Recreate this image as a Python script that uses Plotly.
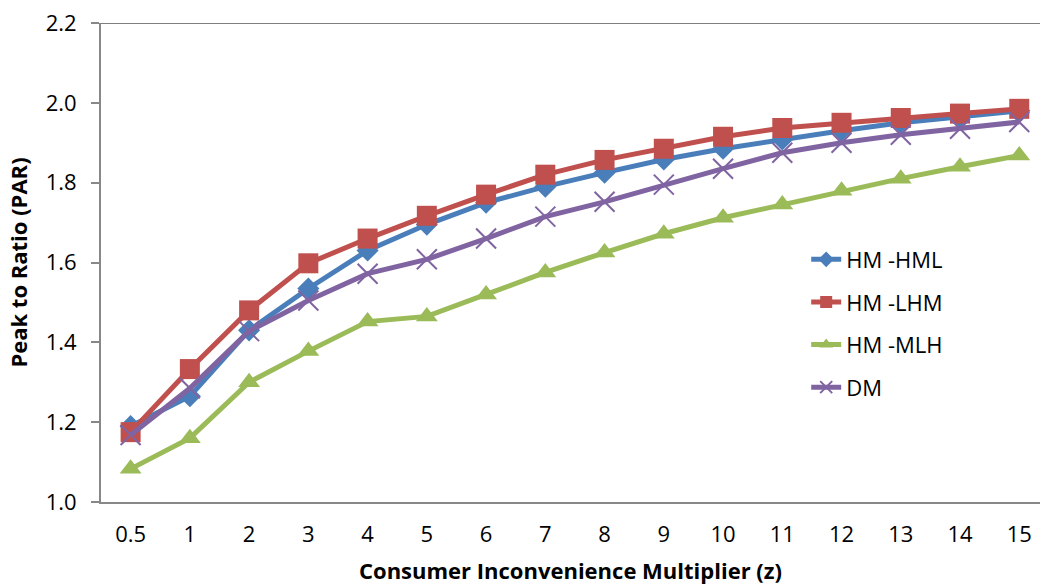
import plotly.graph_objects as go

# Consumer inconvenience multiplier categories
z_labels = ["0.5", "1", "2", "3", "4", "5", "6", "7", "8", "9", "10", "11", "12", "13", "14", "15"]

# Peak-to-average ratio for each scheme
hm_hml = [1.19, 1.265, 1.43, 1.535, 1.63, 1.695, 1.75, 1.79, 1.825, 1.858, 1.885, 1.908, 1.93, 1.95, 1.965, 1.98]
hm_lhm = [1.175, 1.333, 1.48, 1.598, 1.66, 1.717, 1.77, 1.82, 1.857, 1.885, 1.915, 1.937, 1.95, 1.962, 1.973, 1.985]
hm_mlh = [1.083, 1.16, 1.3, 1.378, 1.452, 1.465, 1.52, 1.575, 1.625, 1.672, 1.712, 1.745, 1.78, 1.81, 1.84, 1.868]
dm = [1.168, 1.285, 1.428, 1.505, 1.572, 1.608, 1.66, 1.715, 1.752, 1.795, 1.835, 1.875, 1.9, 1.92, 1.935, 1.952]

xpos = list(range(len(z_labels)))
FONT = "Open Sans"
FS = 22

series = [
    ("HM -HML", hm_hml, "#4A7EBB", dict(symbol="diamond", size=17)),
    ("HM -LHM", hm_lhm, "#C0504D", dict(symbol="square", size=20)),
    ("HM -MLH", hm_mlh, "#9BBB59", dict(symbol="triangle-up", size=19)),
    ("DM", dm, "#8064A2", dict(symbol="x-thin", size=20)),
]

fig = go.Figure()
for name, vals, color, mk in series:
    marker = dict(color=color, **mk)
    if mk["symbol"] == "x-thin":
        marker["line"] = dict(color=color, width=2)
    fig.add_trace(go.Scatter(
        x=xpos, y=vals, name=name, mode="lines+markers",
        legendgroup=name,
        line=dict(color=color, width=5),
        marker=marker,
    ))

fig.update_layout(
    width=1040, height=588,
    margin=dict(l=101, r=0, t=23, b=86),
    paper_bgcolor="white", plot_bgcolor="white",
    font=dict(family=FONT, size=FS, color="#000000"),
    showlegend=True,
    legend=dict(
        x=0.751, y=0.55, xanchor="left", yanchor="top",
        bgcolor="rgba(0,0,0,0)", font=dict(family=FONT, size=FS, color="#000000"),
        tracegroupgap=11, itemsizing="constant",
    ),
    xaxis=dict(
        tickmode="array", tickvals=xpos, ticktext=z_labels,
        range=[-0.5, 15.35], showgrid=False, zeroline=False,
        showline=True, linecolor="#888888", linewidth=2,
        ticks="", tickfont=dict(family=FONT, size=FS),
        ticklabelstandoff=12,
        title=dict(text="<b>Consumer Inconvenience Multiplier (z)</b>",
                   font=dict(family=FONT, size=FS), standoff=16),
    ),
    yaxis=dict(
        range=[1.0, 2.2], dtick=0.2, tickformat=".1f",
        showgrid=False, zeroline=False,
        showline=True, linecolor="#888888", linewidth=2,
        ticks="outside", ticklen=8, tickcolor="#888888", tickwidth=1.5,
        tickfont=dict(family=FONT, size=FS),
        ticklabelstandoff=10,
        title=dict(text="<b>Peak to Ratio (PAR)</b>",
                   font=dict(family=FONT, size=FS), standoff=12),
    ),
    shapes=[dict(type="line", xref="paper", yref="y", x0=0, x1=1, y0=2.2, y1=2.2,
                 line=dict(color="#555555", width=1.5))],
)

fig.write_html("out.html")
